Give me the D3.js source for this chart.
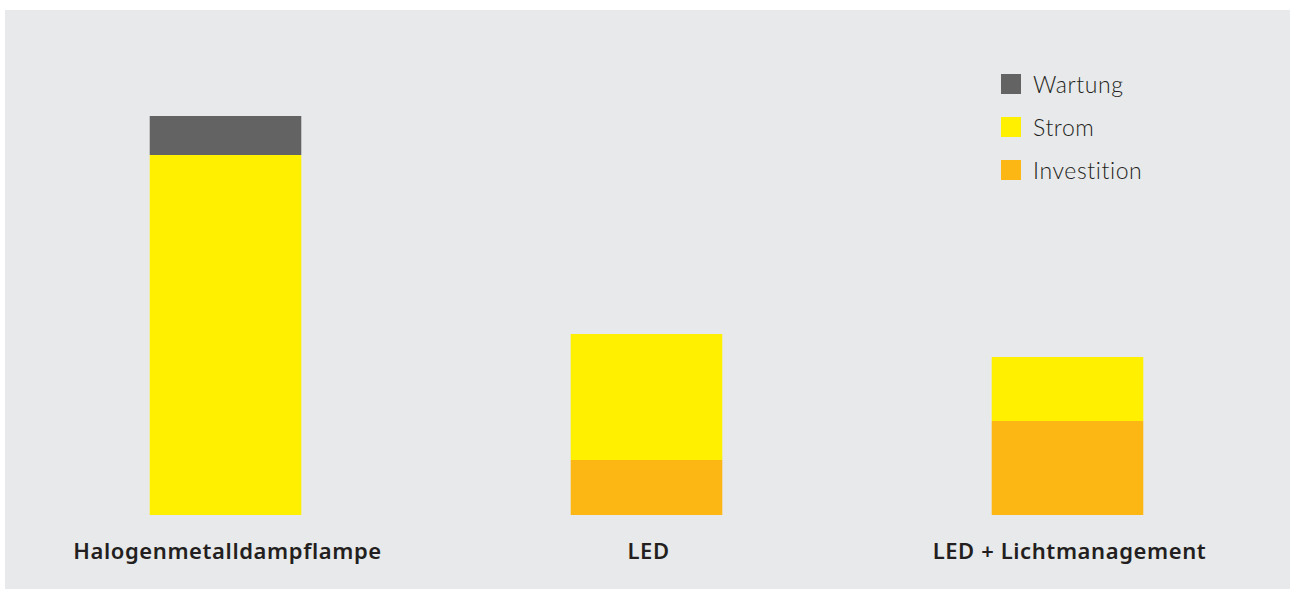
<!DOCTYPE html>
<html>
<head>
<meta charset="utf-8">
<script src="https://cdn.jsdelivr.net/npm/d3@7"></script>
<style>
  html, body { margin: 0; padding: 0; background: #fff; }
  svg { display: block; }
</style>
</head>
<body>
<div id="chart"></div>
<script>
const categories = ['Halogenmetalldampflampe', 'LED', 'LED + Lichtmanagement']
const investition = [0, 55, 94]
const strom = [360, 126, 64]
const wartung = [39, 0, 0]
const seriesNames = ['Investition', 'Strom', 'Wartung']
const legendOrder = ['Wartung', 'Strom', 'Investition']

const colors = {
  Investition: '#fdb714',
  Strom: '#fff000',
  Wartung: '#636363'
}

const width = 1290
const height = 589

const table = categories.map((c, i) => ({
  category: c,
  Investition: investition[i],
  Strom: strom[i],
  Wartung: wartung[i]
}))

const svg = d3.select('#chart').append('svg')
  .attr('width', width)
  .attr('height', height)

svg.append('rect')
  .attr('x', 5).attr('y', 10)
  .attr('width', width - 5).attr('height', 579)
  .attr('fill', '#e8e9eb')

const x = d3.scaleBand()
  .domain(categories)
  .range([15, 1278])
  .paddingInner(0.64)
  .paddingOuter(0.32)

const y = d3.scaleLinear()
  .domain([0, 400])
  .range([515, 115])

const stack = d3.stack().keys(seriesNames)(table)

const plot = svg.append('g').attr('class', 'g-plot')

plot.selectAll('.series')
  .data(stack)
  .enter()
  .append('g')
  .attr('class', 'series')
  .attr('fill', d => colors[d.key])
  .selectAll('rect')
  .data(d => d.filter(p => p[1] - p[0] > 0))
  .enter()
  .append('rect')
  .attr('x', d => x(d.data.category))
  .attr('width', x.bandwidth())
  .attr('y', d => y(d[1]))
  .attr('height', d => y(d[0]) - y(d[1]))

const axisX = d3.axisBottom(x).tickSize(0).tickPadding(0)
const gx = svg.append('g')
  .attr('class', 'axis axis--x')
  .attr('transform', 'translate(2,' + 543 + ')')
  .call(axisX)
gx.select('.domain').remove()
gx.selectAll('text')
  .attr('dy', '0.71em')
  .attr('fill', '#231f20')
  .style('font-family', '"Noto Sans", sans-serif')
  .style('font-weight', 600)
  .style('font-size', '22px')
  .style('letter-spacing', '0.6px')

const legend = svg.append('g').attr('class', 'legend')
  .attr('transform', 'translate(1001,74)')

const item = legend.selectAll('.item')
  .data(legendOrder)
  .enter()
  .append('g')
  .attr('class', 'item')
  .attr('transform', (d, i) => 'translate(0,' + i * 43 + ')')

item.append('rect')
  .attr('width', 20).attr('height', 20)
  .attr('fill', d => colors[d])

item.append('text')
  .attr('x', 32)
  .attr('y', 11)
  .attr('dy', '0.36em')
  .attr('fill', '#231f20')
  .style('font-family', 'Lato, sans-serif')
  .style('font-weight', 300)
  .style('font-size', '23px')
  .style('letter-spacing', '0.6px')
  .text(d => d)
</script>
</body>
</html>
